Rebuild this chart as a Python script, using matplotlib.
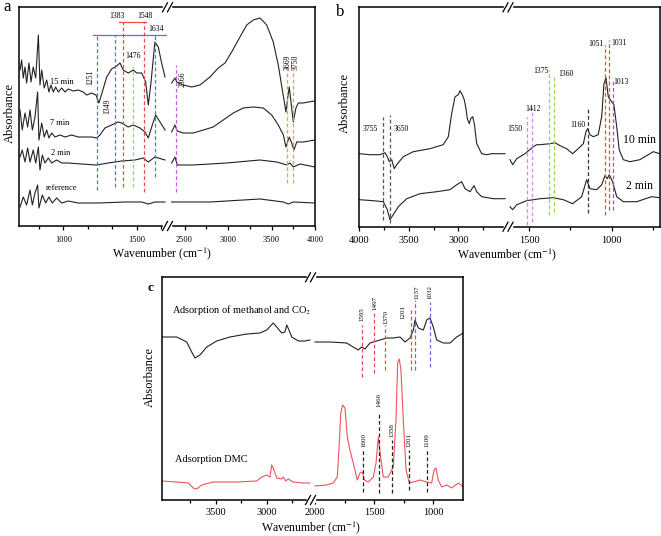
import matplotlib
matplotlib.use('Agg')
import matplotlib.pyplot as plt
from matplotlib.lines import Line2D
from matplotlib.patches import Rectangle

plt.rcParams['font.family'] = ['Liberation Serif', 'DejaVu Serif']
plt.rcParams['mathtext.fontset'] = 'stix'

# ---------------- panel a (wavenumber cm-1, absorbance a.u.) ----------------
a15_lo_wn = [705, 716, 727, 739, 750, 766, 780, 795, 812, 830, 841, 853, 870, 887, 902, 916, 932, 948,
             966, 989, 1012, 1034, 1068, 1102, 1136, 1160, 1194, 1223, 1243, 1266, 1296, 1330, 1364,
             1387, 1409, 1443, 1477, 1501, 1535, 1562, 1580, 1598, 1625, 1648, 1671, 1694]
a15_lo_ab = [156, 166, 148, 159, 143, 163, 144, 159, 148, 191, 141, 156, 138, 146, 134, 141, 134, 139,
             134, 138, 134, 137, 135, 136, 134, 131, 133, 131, 123, 134, 149, 157, 160,
             163, 156, 153, 156, 153, 153, 144, 121, 143, 184, 179, 163, 149]
a15_hi_wn = [2352, 2390, 2410, 2485, 2582, 2677, 2792, 2888, 2965, 3042, 3137, 3215, 3290, 3367,
             3445, 3520, 3578, 3628, 3666, 3686, 3704, 3724, 3750, 3781, 3808, 3865, 3923, 4000]
a15_hi_ab = [143, 148, 144, 141, 139, 141, 149, 158, 163, 174, 189, 201, 206, 208,
             201, 184, 161, 134, 114, 128, 139, 124, 104, 118, 123, 123, 124, 125]

a7_lo_wn = [705, 720, 739, 757, 773, 789, 807, 825, 834, 853, 870, 887, 902, 921, 943, 977, 1012,
            1057, 1102, 1148, 1194, 1228, 1250, 1284, 1330, 1375, 1398, 1443, 1477, 1523, 1557,
            1580, 1603, 1630, 1660, 1694]
a7_lo_ab = [116, 96, 113, 99, 116, 96, 109, 134, 86, 103, 89, 96, 88, 93, 89, 91, 89,
            91, 89, 89, 89, 88, 91, 98, 101, 104, 103, 99, 101, 98, 94,
            88, 99, 111, 104, 96]
a7_hi_wn = [2352, 2390, 2416, 2485, 2600, 2715, 2830, 2945, 3060, 3175, 3290, 3405, 3502, 3578,
            3636, 3666, 3704, 3732, 3758, 3790, 3865, 4000]
a7_hi_ab = [94, 101, 95, 93, 93, 96, 99, 106, 113, 118, 119, 118, 111, 101,
            91, 79, 89, 83, 76, 84, 84, 86]

a2_lo_wn = [705, 720, 739, 757, 773, 795, 812, 830, 841, 857, 875, 898, 921, 955, 989, 1034, 1125,
            1228, 1307, 1398, 1489, 1546, 1580, 1625, 1694]
a2_lo_ab = [69, 76, 64, 78, 64, 76, 63, 79, 56, 71, 63, 68, 63, 66, 63, 63, 62,
            61, 63, 65, 66, 68, 64, 69, 66]
a2_hi_wn = [2352, 2390, 2416, 2600, 2983, 3367, 3560, 3675, 3712, 3750, 3828, 4000]
a2_hi_ab = [63, 69, 61, 61, 63, 66, 64, 61, 63, 59, 62, 59]

aref_lo_wn = [705, 727, 750, 773, 789, 807, 825, 834, 857, 880, 902, 925, 955, 989, 1034, 1102,
              1239, 1421, 1535, 1580, 1625, 1694]
aref_lo_ab = [19, 29, 21, 36, 21, 33, 41, 18, 31, 23, 29, 23, 28, 23, 25, 23,
              23, 24, 24, 22, 24, 24]
aref_hi_wn = [2352, 2792, 3367, 3636, 3693, 3750, 4000]
aref_hi_ab = [24, 24, 27, 24, 22, 24, 23]

a_mark_wn = [1229, 1350, 1405, 1477, 1548, 1625, 2402, 3675, 3750]
a_mark_lo = [36, 39, 39, 39, 34, 49, 34, 43, 43]
a_mark_hi = [191, 191, 204, 160, 204, 191, 161, 159, 159]
a_bar_blue = [1201, 1700, 191]
a_bar_red = [1378, 1565, 204]

a_lab_txt = ['1251', '1349', '1383', '1548', '1634', '1476', '2366', '3669', '3750']
a_lab_wn = [1182, 1302, 1368, 1557, 1630, 1477, 2479, 3684, 3779]
a_lab_ab = [149, 120, 210, 210, 197, 170, 147, 164, 164]

a_curve_txt = ['15 min', '7 min', '2 min', 'reference']
a_curve_wn = [989, 973, 982, 989]
a_curve_ab = [144, 103, 73, 38]

# ---------------- panel b ----------------
b10_lo_wn = [4000, 3892, 3791, 3740, 3717, 3697, 3673, 3647, 3622, 3556, 3455, 3286, 3152, 3101,
             3067, 3033, 3000, 2983, 2960, 2940, 2922, 2909, 2889, 2875, 2855, 2838, 2814, 2764,
             2713, 2663, 2612, 2528]
b10_lo_ab = [73, 72, 72, 74, 70, 65, 67, 58, 62, 70, 75, 78, 82, 90,
             113, 130, 132, 136, 132, 127, 118, 108, 103, 108, 110, 103, 83, 73,
             72, 73, 73, 73]
b10_hi_wn = [1615, 1599, 1574, 1524, 1474, 1453, 1433, 1373, 1343, 1312, 1272, 1236, 1202, 1171,
             1155, 1145, 1131, 1111, 1081, 1060, 1046, 1034, 1020, 1000, 986, 969, 954, 929, 889,
             829, 788, 748, 708]
b10_hi_ab = [67, 62, 68, 73, 80, 82, 82, 83, 84, 81, 78, 73, 78, 83,
             95, 98, 92, 90, 92, 110, 143, 149, 130, 125, 122, 100, 77, 67, 65,
             67, 71, 75, 73]

b2_lo_wn = [4000, 3859, 3758, 3717, 3690, 3657, 3606, 3521, 3387, 3218, 3084, 3016, 2966, 2932,
            2882, 2841, 2814, 2764, 2647, 2528]
b2_lo_ab = [27, 26, 25, 17, 7, 12, 20, 28, 33, 35, 37, 42, 45, 38, 35, 41, 35, 30, 28, 28]
b2_hi_wn = [1615, 1599, 1574, 1514, 1433, 1353, 1292, 1236, 1181, 1151, 1131, 1090, 1060, 1040,
            1026, 1014, 994, 969, 929, 848, 758, 708]
b2_hi_ab = [20, 17, 22, 26, 28, 29, 27, 23, 30, 47, 38, 37, 42, 51, 48, 52, 45, 30, 25, 25, 30, 29]

b_mark_wn = [3764, 3690, 1510, 1482, 1379, 1349, 1145, 1038, 1014, 990]
b_mark_lo = [7, 4, 2, 5, 12, 15, 14, 12, 17, 17]
b_mark_hi = [110, 112, 110, 120, 157, 152, 120, 182, 187, 147]

b_lab_txt = ['3755', '3650', '1550', '1412', '1375', '1360', '1160', '1051', '1031', '1013']
b_lab_wn = [3892, 3572, 1585, 1474, 1429, 1276, 1202, 1098, 954, 946]
b_lab_ab = [98, 98, 98, 118, 156, 153, 102, 183, 184, 145]

b_curve_txt = ['10 min', '2 min']
b_curve_wn = [834, 831]
b_curve_ab = [87, 41]

# ---------------- panel c ----------------
c1_lo_wn = [4029, 3882, 3784, 3735, 3703, 3654, 3588, 3490, 3360, 3196, 3066, 3000, 2936, 2902,
            2853, 2821, 2804, 2782, 2755, 2690, 2625, 2576]
c1_lo_ab = [163, 163, 158, 148, 142, 145, 153, 159, 163, 166, 167, 170, 177, 173,
            167, 168, 175, 170, 163, 159, 159, 160]
c1_hi_wn = [2000, 1873, 1732, 1676, 1634, 1605, 1577, 1534, 1477, 1393, 1337, 1280, 1238, 1195,
            1167, 1153, 1125, 1082, 1054, 1026, 998, 969, 913, 856, 800, 744]
c1_hi_ab = [158, 158, 157, 153, 150, 153, 151, 157, 159, 162, 162, 163, 158, 162,
            170, 180, 172, 170, 180, 182, 173, 160, 157, 157, 163, 167]

c2_lo_wn = [4029, 3882, 3769, 3720, 3686, 3637, 3524, 3294, 3098, 3049, 3000, 2968, 2951, 2936,
            2902, 2853, 2838, 2814, 2789, 2740, 2657, 2576]
c2_lo_ab = [19, 18, 17, 12, 11, 15, 18, 18, 19, 23, 25, 23, 35, 32, 22, 21, 23, 19, 21, 18, 17, 17]
c2_hi_wn = [2000, 1901, 1845, 1811, 1794, 1782, 1765, 1746, 1726, 1704, 1676, 1642, 1619, 1599,
            1582, 1549, 1506, 1483, 1464, 1444, 1422, 1379, 1359, 1337, 1314, 1300, 1286, 1272,
            1252, 1229, 1201, 1167, 1111, 1054, 1012, 992, 975, 956, 927, 885, 842, 786, 744]
c2_hi_ab = [14, 15, 17, 23, 57, 87, 95, 92, 63, 50, 37, 20, 27, 28,
            20, 18, 23, 37, 63, 43, 23, 23, 28, 33, 80, 137, 141, 130,
            80, 30, 17, 18, 20, 18, 17, 30, 32, 20, 13, 15, 12, 17, 13]

c_top_wn = [1599, 1500, 1407, 1189, 1155, 1026]
c_top_lo = [123, 127, 130, 130, 130, 133]
c_top_hi = [175, 187, 175, 190, 200, 198]
c_top_txt = ['1595', '1497', '1370', '1201', '1157', '1032']
c_top_lab_wn = [1599, 1492, 1399, 1252, 1139, 1026]
c_top_lab_ab = [186, 197, 183, 188, 208, 208]

c_bot_wn = [1596, 1455, 1350, 1204, 1054]
c_bot_lo = [8, 7, 7, 10, 8]
c_bot_hi = [50, 88, 60, 50, 50]
c_bot_txt = ['1600', '1466', '1358', '1201', '1109']
c_bot_lab_wn = [1582, 1455, 1350, 1201, 1054]
c_bot_lab_ab = [60, 100, 70, 60, 60]

c_curve_txt = ['Adsorption of methanol and CO$_2$', 'Adsorption DMC']
c_curve_wn = [3931, 3899]
c_curve_ab = [190, 40]

# colours
BLUE, RED, GREEN = '#5a6ef0', '#f44848', '#8ee04a'
MAGENTA, ORANGE, VIOLET, GREY = '#c95ae6', '#f4956c', '#d88ae8', '#555555'
LINE = '#222222'
a_mark_col = [BLUE, BLUE, RED, GREEN, RED, BLUE, MAGENTA, ORANGE, ORANGE]
b_mark_col = [GREY, GREY, VIOLET, VIOLET, GREEN, GREEN, '#333333', RED, RED, BLUE]
c_top_col = [RED, RED, RED, RED, BLUE, BLUE]

W, H = 661, 536
fig = plt.figure(figsize=(W / 100, H / 100), dpi=100)


def add_axes_px(x0, x1, y0, y1):
    return fig.add_axes([x0 / W, 1 - y1 / H, (x1 - x0) / W, (y1 - y0) / H])


def broken_axes(x0, xb, x1, y0, y1, xl_lo, xl_hi, ymax, ticks_lo, ticks_hi, minor_lo, minor_hi,
                tick_fs, pad):
    axl = add_axes_px(x0, xb, y0, y1)
    axr = add_axes_px(xb, x1, y0, y1)
    for ax, xl, tk, mn in ((axl, xl_lo, ticks_lo, minor_lo), (axr, xl_hi, ticks_hi, minor_hi)):
        ax.set_xlim(*xl)
        ax.set_ylim(0, ymax)
        ax.set_yticks([])
        ax.set_xticks(tk)
        ax.set_xticks(mn, minor=True)
        ax.tick_params(axis='x', which='major', direction='out', length=3, width=0.9,
                       labelsize=tick_fs, pad=pad)
        ax.tick_params(axis='x', which='minor', direction='out', length=2.5, width=0.9)
        for s in ax.spines.values():
            s.set_linewidth(1.1)
        ax.patch.set_alpha(0)
    axl.spines['right'].set_visible(False)
    axr.spines['left'].set_visible(False)
    # break marks on top and bottom spines
    xf = xb / W
    for yp in (y0, y1):
        yf = 1 - yp / H
        fig.add_artist(Rectangle((xf - 4 / W, yf - 2 / H), 8 / W, 4 / H, color='white',
                                 transform=fig.transFigure, zorder=5))
        for dx in (-2.5, 2.5):
            fig.add_artist(Line2D([xf + (dx - 2.5) / W, xf + (dx + 2.5) / W],
                                  [yf - 4.5 / H, yf + 4.5 / H], color='k', lw=0.9,
                                  transform=fig.transFigure, zorder=6))
    return axl, axr


def pick(axl, axr, wn):
    lo, hi = sorted(axl.get_xlim())
    return axl if lo <= wn <= hi else axr


def vmarks(axl, axr, wns, los, his, cols, lw=0.9):
    for w, lo, hi, c in zip(wns, los, his, cols):
        pick(axl, axr, w).plot([w, w], [lo, hi], color=c, lw=lw, ls=(0, (3, 2)))


def labels(axl, axr, txts, wns, abs_, rots, fs, **kw):
    for t, w, y, r in zip(txts, wns, abs_, rots):
        pick(axl, axr, w).text(w, y, t, rotation=r, fontsize=fs, ha='center', va='center', **kw)


# ---- panel a ----
al, ar = broken_axes(19.3, 167.5, 315, 7.3, 226, (700, 1711), (2304, 4000), 218.7,
                     [1000, 1500], [2500, 3000, 3500, 4000], [833, 1167, 1333, 1667],
                     [2750, 3250, 3750], 6, 4)
for wn, ab in ((a15_lo_wn, a15_lo_ab), (a7_lo_wn, a7_lo_ab), (a2_lo_wn, a2_lo_ab),
               (aref_lo_wn, aref_lo_ab)):
    al.plot(wn, ab, color=LINE, lw=0.8)
for wn, ab in ((a15_hi_wn, a15_hi_ab), (a7_hi_wn, a7_hi_ab), (a2_hi_wn, a2_hi_ab),
               (aref_hi_wn, aref_hi_ab)):
    ar.plot(wn, ab, color=LINE, lw=0.8)
vmarks(al, ar, a_mark_wn, a_mark_lo, a_mark_hi, a_mark_col)
al.plot(a_bar_blue[:2], [a_bar_blue[2]] * 2, color=BLUE, lw=0.9)
al.plot(a_bar_red[:2], [a_bar_red[2]] * 2, color=RED, lw=0.9)
labels(al, ar, a_lab_txt, a_lab_wn, a_lab_ab, [90, 90, 0, 0, 0, 0, 90, 90, 90], 5.5)
labels(al, ar, a_curve_txt, a_curve_wn, a_curve_ab, [0] * 4, 6)

# ---- panel b ----
bl, br = broken_axes(359.3, 508, 660, 7.3, 226.7, (4000, 2498), (1627, 707), 219.4,
                     [4000, 3500, 3000], [1500, 1000], [3750, 3250, 2750], [1250, 750], 7.5, 4)
bl.plot(b10_lo_wn, b10_lo_ab, color=LINE, lw=0.8)
bl.plot(b2_lo_wn, b2_lo_ab, color=LINE, lw=0.8)
br.plot(b10_hi_wn, b10_hi_ab, color=LINE, lw=0.8)
br.plot(b2_hi_wn, b2_hi_ab, color=LINE, lw=0.8)
vmarks(bl, br, b_mark_wn, b_mark_lo, b_mark_hi, b_mark_col)
labels(bl, br, b_lab_txt, b_lab_wn, b_lab_ab, [0] * 10, 5.5)
labels(bl, br, b_curve_txt, b_curve_wn, b_curve_ab, [0, 0], 8.5)

# ---- panel c ----
cl, cr = broken_axes(161.7, 310.5, 463.3, 277.3, 500, (4029, 2571), (2038, 744), 222.7,
                     [3500, 3000], [2000, 1500, 1000], [3750, 3250, 2750], [1750, 1250], 7.5, 3)
cl.plot(c1_lo_wn, c1_lo_ab, color=LINE, lw=0.8)
cr.plot(c1_hi_wn, c1_hi_ab, color=LINE, lw=0.8)
cl.plot(c2_lo_wn, c2_lo_ab, color='#f2525c', lw=0.8)
cr.plot(c2_hi_wn, c2_hi_ab, color='#f2525c', lw=0.8)
vmarks(cl, cr, c_top_wn, c_top_lo, c_top_hi, c_top_col)
vmarks(cl, cr, c_bot_wn, c_bot_lo, c_bot_hi, ['#222222'] * 5)
labels(cl, cr, c_top_txt, c_top_lab_wn, c_top_lab_ab, [90] * 6, 5)
labels(cl, cr, c_bot_txt, c_bot_lab_wn, c_bot_lab_ab, [90] * 5, 5)
for t, w, y in zip(c_curve_txt, c_curve_wn, c_curve_ab):
    cl.text(w, y, t, fontsize=7.5, ha='left', va='center')

# ---- shared axis texts ----
xlab = 'Wavenumber (cm$^{-1}$)'
fig.text(161.7 / W, 1 - 253.3 / H, xlab, fontsize=8.5, ha='center', va='center')
fig.text(506.7 / W, 1 - 255 / H, xlab, fontsize=8.5, ha='center', va='center')
fig.text(311 / W, 1 - 527.5 / H, xlab, fontsize=8.5, ha='center', va='center')
for xp, yp in ((10, 113), (345, 103), (150, 377)):
    fig.text(xp / W, 1 - yp / H, 'Absorbance', fontsize=9, rotation=90, ha='center', va='center')
fig.text(7 / W, 1 - 7 / H, 'a', fontsize=12, ha='center', va='center')
fig.text(340 / W, 1 - 12 / H, 'b', fontsize=12, ha='center', va='center')
fig.text(150 / W, 1 - 288 / H, 'c', fontsize=9.5, fontweight='bold', ha='center', va='center')

fig.savefig('out.png', dpi=100)
